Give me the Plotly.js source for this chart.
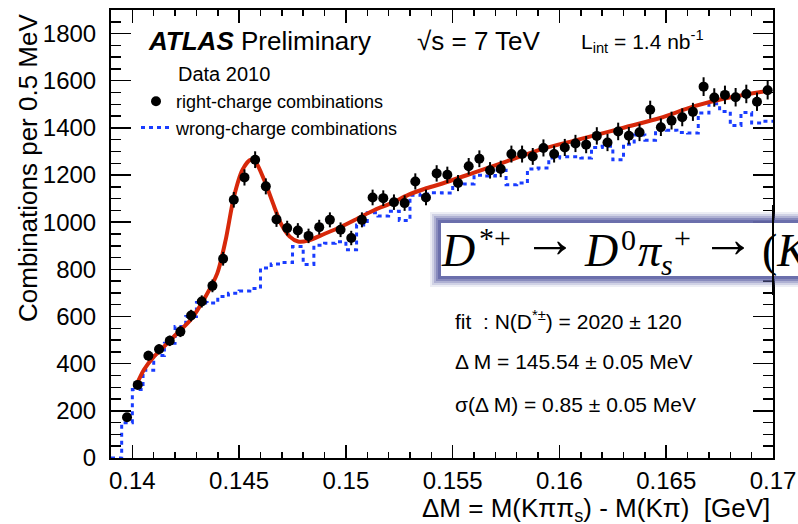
<!DOCTYPE html>
<html><head><meta charset="utf-8">
<script src="https://cdn.plot.ly/plotly-3.0.1.min.js"></script>
<style>html,body{margin:0;padding:0;background:#fff}#chart{width:798px;height:524px}</style>
</head><body><div id="chart"></div>
<script>
// ---- data ----
const binWidth = 0.0005;               // GeV (0.5 MeV bins)
const rcFirstCenter = 0.13975;
const rcCounts = [173,310,434,461,497,536,604,664,730,845,1095,1190,1265,1152,1012,975,965,942,979,1010,968,933,1010,1105,1102,1085,1081,1173,1105,1207,1201,1166,1237,1269,1220,1226,1289,1289,1279,1315,1289,1317,1334,1329,1366,1338,1385,1367,1381,1477,1403,1431,1445,1468,1575,1529,1540,1530,1544,1511,1560];
const wcFirstCenter = 0.13925;
const wcCounts = [0,150,290,372,435,487,558,600,659,657,685,699,708,719,806,823,829,897,821,902,911,917,883,988,1040,1026,1046,1007,1114,1120,1125,1124,1155,1162,1199,1196,1220,1159,1166,1226,1230,1272,1278,1278,1272,1317,1322,1265,1331,1370,1348,1391,1390,1380,1378,1463,1502,1470,1410,1465,1421,1428];
const fitX = [0.14016,0.14054,0.14101,0.14148,0.1421,0.14273,0.14343,0.14398,0.14437,0.14476,0.14516,0.14554,0.14578,0.14617,0.14664,0.14698,0.14737,0.14776,0.14823,0.14901,0.1498,0.15057,0.15136,0.15214,0.15292,0.1537,0.15448,0.15597,0.15753,0.15909,0.16065,0.16237,0.16316,0.16472,0.16628,0.16784,0.16987];
const fitY = [303,374,430,472,529,586,685,784,925,1109,1223,1265,1254,1180,1067,990,939,918,922,951,982,1017,1053,1081,1116,1142,1163,1209,1258,1308,1345,1385,1405,1442,1491,1527,1559];
const xTickVals = [0.14,0.145,0.15,0.155,0.16,0.165,0.17];
const xTickText = ['0.14','0.145','0.15','0.155','0.16','0.165','0.17'];

// ---- derived ----
const rcX = rcCounts.map((_, i) => +(rcFirstCenter + i*binWidth).toFixed(5));
const rcErr = rcCounts.map(v => Math.sqrt(v));
const wcEdges = wcCounts.map((_, i) => +(wcFirstCenter - binWidth/2 + i*binWidth).toFixed(5));
wcEdges.push(+(wcEdges[wcEdges.length-1] + binWidth).toFixed(5));
const wcStep = wcCounts.concat([wcCounts[wcCounts.length-1]]);

// pixel helpers for layout decorations (plot area 111..773 x 10..458)
const L = 111, R = 773, T = 10, B = 458;
const px = v => (v - L) / (R - L);
const py = v => (B - v) / (B - T);

const traces = [
  {x: wcEdges, y: wcStep, type:'scatter', mode:'lines', name:'wrong-charge combinations',
   line:{shape:'hv', color:'rgb(25,60,255)', width:3, dash:'4px,4px'}, legendgroup:'b', legendrank:2},
  {x: fitX, y: fitY, type:'scatter', mode:'lines', showlegend:false,
   line:{shape:'spline', smoothing:0.8, color:'rgb(215,40,10)', width:4}},
  {x: rcX, y: rcCounts, type:'scatter', mode:'markers', name:'right-charge combinations',
   marker:{color:'#000', size:10, symbol:'circle'},
   error_y:{type:'data', array: rcErr, visible:true, color:'#000', thickness:2, width:0},
   legendgroup:'a', legendrank:1}
];

const font = 'Liberation Sans, Arial, Helvetica, sans-serif';
const serif = 'Liberation Serif, Times New Roman, DejaVu Serif, serif';

const ann = (x, y, text, size, extra) => Object.assign({
  xref:'paper', yref:'paper', x:px(x), y:py(y), text:text, showarrow:false,
  xanchor:'left', yanchor:'middle', font:{family:font, size:size, color:'#000'}
}, extra||{});
const sann = (x, y, text, size) => ann(x, y, text, size, {font:{family:serif, size:size, color:'#000'}});

// glow box around the decay formula (layered to mimic a soft shadow)
const glowColor = 'rgb(100,104,168)';
const glow = [[11,0.12],[9,0.2],[7,0.3],[5,0.5],[3,0.8]].map(([d,a]) => ({
  type:'rect', xref:'paper', yref:'paper', x0:px(441-d), x1:px(850), y0:py(223-d), y1:py(276+d),
  fillcolor:glowColor, opacity:a, line:{width:0}, layer:'above'}));

const layout = {
  width:798, height:524,
  margin:{l:L, r:798-R, t:T, b:524-B},
  paper_bgcolor:'#fff', plot_bgcolor:'#fff',
  font:{family:font, color:'#000'},
  showlegend:true,
  legend:{x:px(136), y:py(83), xanchor:'left', yanchor:'top', font:{family:font, size:18, color:'#000'},
          bgcolor:'rgba(0,0,0,0)', traceorder:'normal', tracegroupgap:2},
  xaxis:{range:[0.139,0.17], showgrid:false, zeroline:false, showline:true, linecolor:'#000', linewidth:2,
         mirror:'allticks', ticks:'inside', ticklen:13, tickwidth:1.5, tickcolor:'#000',
         tickmode:'array', tickvals:xTickVals, ticktext:xTickText,
         tickfont:{family:font, size:24, color:'#000'},
         minor:{dtick:0.001, tick0:0.14, ticklen:6, tickwidth:1.5, tickcolor:'#000', ticks:'inside', showgrid:false}},
  yaxis:{range:[0,1900], showgrid:false, zeroline:false, showline:true, linecolor:'#000', linewidth:2,
         mirror:'allticks', ticks:'inside', ticklen:20, tickwidth:1.5, tickcolor:'#000',
         dtick:200, tick0:0, tickfont:{family:font, size:24, color:'#000'}, ticklabelstandoff:8,
         minor:{dtick:50, ticklen:10, tickwidth:1.5, tickcolor:'#000', ticks:'inside', showgrid:false}},
  shapes: glow.concat([
    {type:'rect', xref:'paper', yref:'paper', x0:px(441), x1:px(850), y0:py(223), y1:py(276), fillcolor:'#fff', line:{width:0}, layer:'above'},
    {type:'line', xref:'paper', yref:'paper', x0:1, x1:1, y0:py(205), y1:py(295), line:{color:'#000', width:2}, layer:'above'}
  ]),
  annotations:[
    ann(146, 41, '<b><i>ATLAS</i></b> Preliminary', 26),
    ann(415, 41, '√s = 7 TeV', 26),
    ann(579, 41, 'L<sub>int</sub> = 1.4 nb<sup>-1</sup>', 21),
    ann(176, 74, 'Data 2010', 20),
    // decay formula, built piece by piece so that sub/superscripts stack like TeX
    sann(439, 250, '<i>D</i>', 46),
    sann(477, 237, '*+', 30),
    sann(521, 239, '→', 54),
    sann(582, 250, '<i>D</i>', 46),
    sann(619, 239, '0', 30),
    sann(636, 250, '<i>π</i>', 46),
    sann(659, 264, '<i>s</i>', 30),
    sann(672, 237, '+', 30),
    sann(699, 239, '→', 54),
    sann(760, 250, '(<i>K</i><sup>−</sup><i>π</i><sup>+</sup>)<i>π</i><sub><i>s</i></sub><sup>+</sup>', 46),
    ann(453, 320, 'fit  : N(D<sup>*±</sup>) = 2020 ± 120', 21),
    ann(453, 361, 'Δ M = 145.54 ± 0.05 MeV', 21),
    ann(453, 404, 'σ(Δ M) = 0.85 ± 0.05 MeV', 21),
    ann(772, 509, 'ΔM = M(Kππ<sub>s</sub>) - M(Kπ)  [GeV]', 26, {xanchor:'right'}),
    ann(28, 168, 'Combinations per 0.5 MeV', 26, {xanchor:'center', textangle:-90})
  ]
};

Plotly.newPlot('chart', traces, layout, {displayModeBar:false, staticPlot:true});
</script>
</body></html>
